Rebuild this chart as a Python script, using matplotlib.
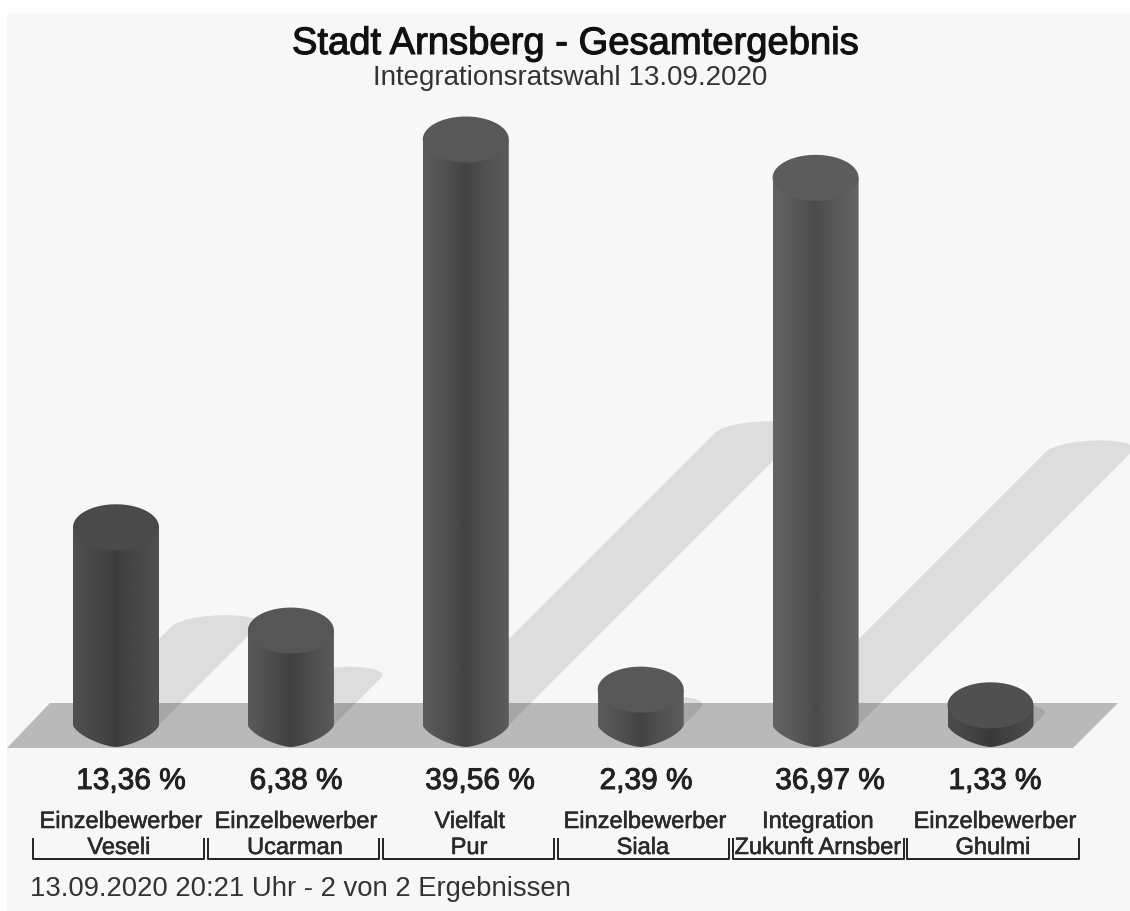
import matplotlib
matplotlib.use('Agg')
import matplotlib.pyplot as plt
import matplotlib.patheffects as pe
import numpy as np
from matplotlib.patches import Polygon

plt.rcParams['font.family'] = ['Liberation Sans', 'DejaVu Sans']

# Stimmenanteile
parteien = ['Einzelbewerber\nVeseli', 'Einzelbewerber\nUcarman', 'Vielfalt\nPur',
            'Einzelbewerber\nSiala', 'Integration\nZukunft Arnsber', 'Einzelbewerber\nGhulmi']
werte = [13.36, 6.38, 39.56, 2.39, 36.97, 1.33]
werte_text = ['13,36 %', '6,38 %', '39,56 %', '2,39 %', '36,97 %', '1,33 %']

# Grautoene der Saeulen: Rand, Mitte, Deckel
rand = ['#505050', '#5a5a5a', '#5c5c5c', '#5c5c5c', '#646464', '#4c4c4c']
mitte = ['#3c3c3c', '#3e3e3e', '#424242', '#424242', '#4a4a4a', '#383838']
deckel = ['#4a4a4a', '#565656', '#585858', '#585858', '#5c5c5c', '#505050']

W, H = 1130, 911
X0, DX = 116, 174.9     # Pixel der ersten Saeule und Abstand
Y0, SY = 725, 14.8      # Pixel von 0 % und Pixel pro Prozent


def xd(p):    # Pixel -> Datenkoordinate
    return (p - X0) / DX


def yd(p):
    return (Y0 - p) / SY


def fett(breite, farbe):    # etwas kraeftigere Schrift
    return [pe.withStroke(linewidth=breite, foreground=farbe)]


fig = plt.figure(figsize=(W / 100, H / 100), dpi=100, facecolor='white')
ax = fig.add_axes([0, 0, 1, 1])
ax.axis('off')

# Hintergrund und Boden
ax.add_patch(Polygon([(xd(7), yd(911)), (xd(7), yd(13)), (xd(1130), yd(13)), (xd(1130), yd(911))],
                     fc='#f7f7f7', ec='none', zorder=0))
ax.add_patch(Polygon([(xd(7), yd(748)), (xd(50), yd(703)), (xd(1118), yd(703)), (xd(1073), yd(748))],
                     fc='#b9b9b9', ec='none', zorder=1))

rx = 43 / DX
ry = 23 / SY
ry_u = 22 / SY
t = np.linspace(0, 2 * np.pi, 120)

# Schatten: um 45 Grad geschert, halbe Hoehe
for i, v in enumerate(werte):
    dy = v * SY / 2
    oben = np.linspace(0, np.pi, 60)
    px_o = X0 + i * DX + dy + 43 * np.cos(oben) + 11 * np.sin(oben)
    py_o = Y0 - dy - 11 * np.sin(oben)
    xs = np.concatenate([px_o, [X0 + i * DX - 43, X0 + i * DX + 43]])
    ys = np.concatenate([py_o, [Y0, Y0]])
    ax.add_patch(Polygon(np.column_stack([xd(xs), yd(ys)]), fc='black', alpha=0.1, ec='none', zorder=2))

# Saeulen mit Farbverlauf, unten leicht spitz zulaufend
for i, v in enumerate(werte):
    w = np.linspace(0, np.pi, 80)
    seite_x = i - rx * np.sign(np.cos(w)) * np.abs(np.cos(w)) ** 1.35
    seite_y = -ry_u * np.sin(w) ** 1.35
    seite_x = np.concatenate([seite_x, [i + rx, i - rx]])
    seite_y = np.concatenate([seite_y, [v, v]])
    clip = Polygon(np.column_stack([seite_x, seite_y]), transform=ax.transData, fc='none', ec='none')
    ax.add_patch(clip)
    r = int(rand[i][1:3], 16)
    m = int(mitte[i][1:3], 16)
    g = np.abs(np.linspace(-1, 1, 86))
    g = (m + (r - m) * g ** 0.8).reshape(1, -1)
    im = ax.imshow(g, cmap='gray', vmin=0, vmax=255, aspect='auto', zorder=3,
                   extent=(i - rx, i + rx, -ry_u, v), interpolation='bilinear')
    im.set_clip_path(clip)
    ax.fill(i + rx * np.cos(t), v + ry * np.sin(t), fc=deckel[i], ec='none', zorder=4)

ax.set_xlim(xd(0), xd(W))
ax.set_ylim(yd(H), yd(0))

# Beschriftung
wert_x = [131, 296, 480, 646, 830, 995]
name_x = [121, 296, 470, 645, 818, 995]
name2_x = [119, 295, 469, 643, 818, 993]
for i in range(len(werte)):
    ax.text(xd(wert_x[i]), yd(789), werte_text[i], ha='center', va='baseline', fontsize=21.5,
            color='#222222', zorder=6, path_effects=fett(0.7, '#222222'))
    z1, z2 = parteien[i].split('\n')
    ax.text(xd(name_x[i]), yd(828), z1, ha='center', va='baseline', fontsize=17, color='#2a2a2a', zorder=6,
            path_effects=fett(0.4, '#2a2a2a'))
    ax.text(xd(name2_x[i]), yd(854), z2, ha='center', va='baseline', fontsize=17, color='#2a2a2a', zorder=6,
            path_effects=fett(0.4, '#2a2a2a'))
    l, r_ = 33 + i * 174.9, 204 + i * 174.9
    ax.plot(xd(np.array([l, l, r_, r_])), yd(np.array([839, 859, 859, 839])), color='#222222', lw=1.4, zorder=5)

ax.text(xd(576), yd(54), 'Stadt Arnsberg - Gesamtergebnis', ha='center', va='baseline', fontsize=27.5,
        color='#111111', zorder=6, path_effects=fett(0.8, '#111111'))
ax.text(xd(570.5), yd(85), 'Integrationsratswahl 13.09.2020', ha='center', va='baseline', fontsize=20,
        color='#333333', zorder=6)
ax.text(xd(30), yd(896), '13.09.2020 20:21 Uhr - 2 von 2 Ergebnissen', ha='left', va='baseline', fontsize=19.8,
        color='#333333', zorder=6)

plt.savefig('out.png', dpi=100)
